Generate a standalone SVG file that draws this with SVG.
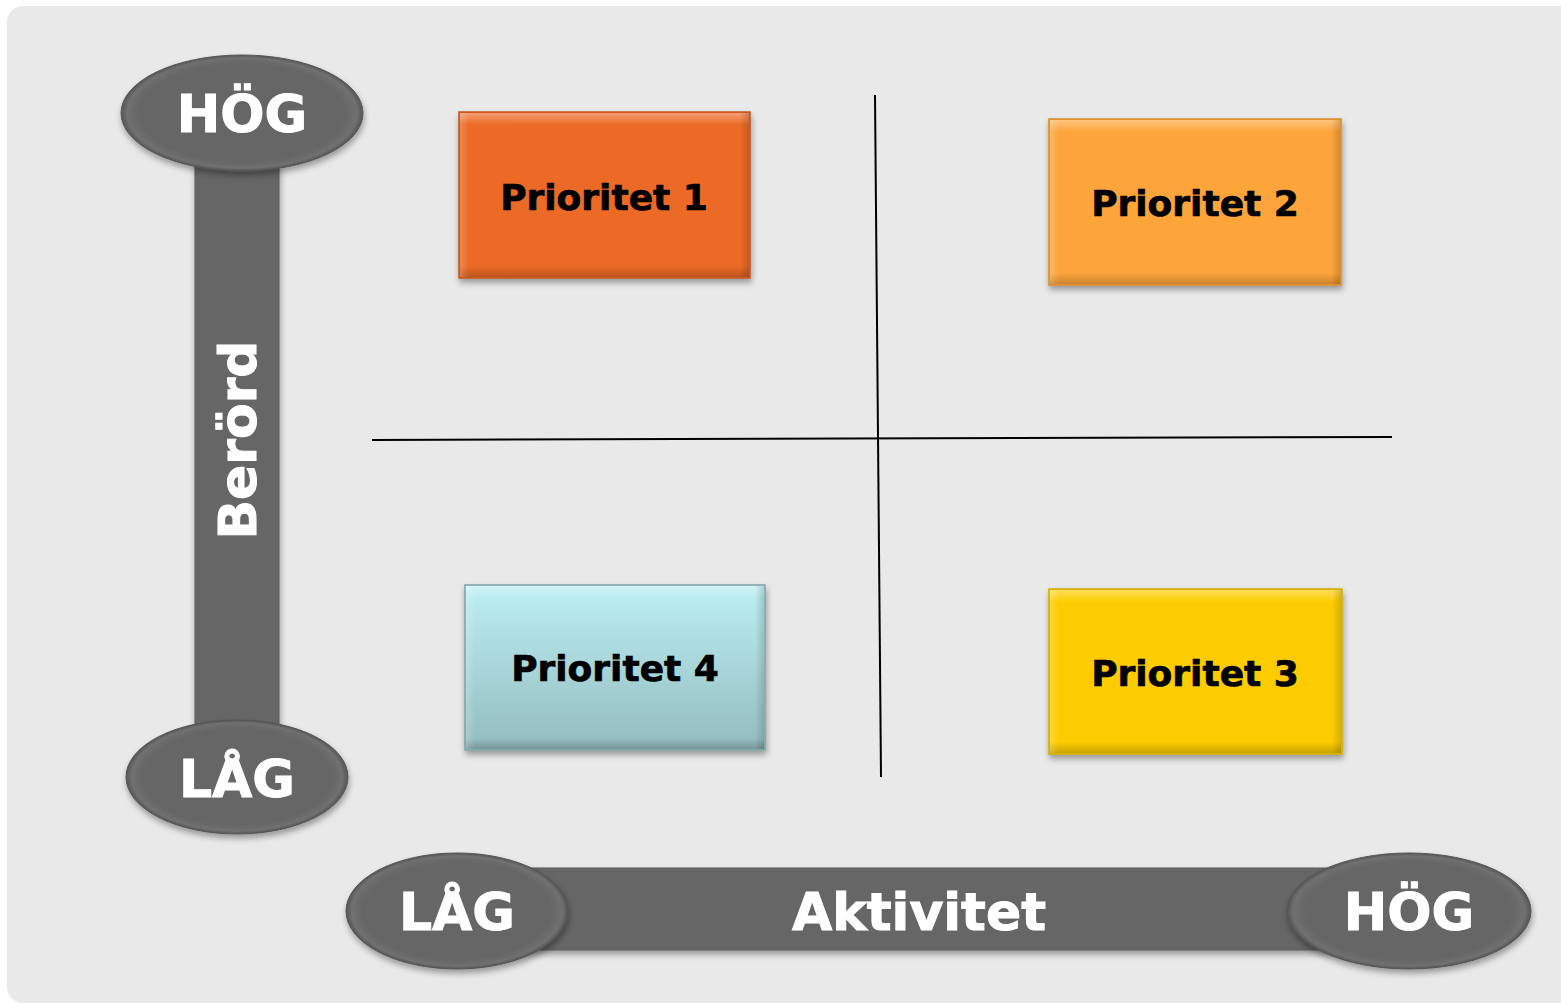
<svg xmlns="http://www.w3.org/2000/svg" width="1561" height="1005" viewBox="0 0 1561 1005">
<defs>
<filter id="sh" x="-10%" y="-10%" width="120%" height="130%">
<feGaussianBlur in="SourceAlpha" stdDeviation="3"/>
<feOffset dx="1" dy="4" result="b"/>
<feComponentTransfer><feFuncA type="linear" slope="0.35"/></feComponentTransfer>
<feMerge><feMergeNode/><feMergeNode in="SourceGraphic"/></feMerge>
</filter>
<linearGradient id="g4" x1="0" y1="0" x2="0" y2="1"><stop offset="0" stop-color="#bdeff3"/><stop offset="1" stop-color="#93bcbf"/></linearGradient>
<linearGradient id="bevT" x1="0" y1="0" x2="0" y2="1"><stop offset="0" stop-color="#fff" stop-opacity="0.35"/><stop offset="1" stop-color="#fff" stop-opacity="0"/></linearGradient>
<linearGradient id="bevB" x1="0" y1="0" x2="0" y2="1"><stop offset="0" stop-color="#000" stop-opacity="0"/><stop offset="1" stop-color="#000" stop-opacity="0.2"/></linearGradient>
<linearGradient id="bevL" x1="0" y1="0" x2="1" y2="0"><stop offset="0" stop-color="#fff" stop-opacity="0.2"/><stop offset="1" stop-color="#fff" stop-opacity="0"/></linearGradient>
<linearGradient id="bevR" x1="0" y1="0" x2="1" y2="0"><stop offset="0" stop-color="#000" stop-opacity="0"/><stop offset="1" stop-color="#000" stop-opacity="0.15"/></linearGradient>
<radialGradient id="ell" cx="0.5" cy="0.5" r="0.5"><stop offset="0.85" stop-color="#666"/><stop offset="0.95" stop-color="#707070"/><stop offset="1" stop-color="#555"/></radialGradient>
</defs>
<style>
.lbl{font-family:"DejaVu Sans","Liberation Sans",sans-serif;font-weight:bold;text-anchor:middle}
.w{fill:#fff;stroke:#fff;stroke-width:1;font-size:52px}
.b{fill:#000;stroke:#000;stroke-width:0.7;font-size:36px}
.bar{fill:#666}
.ax{stroke:#000;stroke-width:2;fill:none}
.box{stroke-width:1.5}
</style>
<rect x="7" y="6" width="1574" height="997" rx="16" fill="#e9e9e9"/>

<g id="connectors">
<line class="ax" x1="875" y1="95" x2="881" y2="777"/>
<line class="ax" x1="372" y1="440" x2="1392" y2="437"/>
</g>

<g id="vertical-axis">
<rect class="bar" x="195" y="160" width="84" height="575" stroke="#5a5a5a" filter="url(#sh)"/>
<text class="lbl w" transform="translate(256,440) rotate(-90)">Berörd</text>
</g>
<g id="horizontal-axis">
<rect class="bar" x="510" y="868" width="830" height="82" stroke="#5a5a5a" filter="url(#sh)"/>
<text class="lbl w" x="919" y="930">Aktivitet</text>
</g>

<g id="hog-vertical">
<ellipse cx="242" cy="113" rx="121" ry="58" fill="url(#ell)" stroke="#555" filter="url(#sh)"/>
<text class="lbl w" x="242" y="132">HÖG</text>
</g>
<g id="lag-vertical">
<ellipse cx="237" cy="777" rx="111" ry="57" fill="url(#ell)" stroke="#555" filter="url(#sh)"/>
<text class="lbl w" x="237" y="797">LÅG</text>
</g>
<g id="lag-horizontal">
<ellipse cx="457" cy="911" rx="111" ry="58" fill="url(#ell)" stroke="#555" filter="url(#sh)"/>
<text class="lbl w" x="457" y="930">LÅG</text>
</g>
<g id="hog-horizontal">
<ellipse cx="1409" cy="911" rx="122" ry="58" fill="url(#ell)" stroke="#555" filter="url(#sh)"/>
<text class="lbl w" x="1409" y="930">HÖG</text>
</g>

<g id="p1">
<rect class="box" x="459" y="112" width="291" height="166" fill="#ec6a28" stroke="#c4541c" filter="url(#sh)"/>
<rect x="460" y="113" width="289" height="12" fill="url(#bevT)"/>
<rect x="460" y="266" width="289" height="11" fill="url(#bevB)"/>
<rect x="460" y="113" width="9" height="164" fill="url(#bevL)"/>
<rect x="740" y="113" width="9" height="164" fill="url(#bevR)"/>
<text class="lbl b" x="604" y="210">Prioritet 1</text>
</g>
<g id="p2">
<rect class="box" x="1049" y="119" width="292" height="166" fill="#fda43a" stroke="#d98a2c" filter="url(#sh)"/>
<rect x="1050" y="120" width="290" height="12" fill="url(#bevT)"/>
<rect x="1050" y="273" width="290" height="11" fill="url(#bevB)"/>
<rect x="1050" y="120" width="9" height="164" fill="url(#bevL)"/>
<rect x="1331" y="120" width="9" height="164" fill="url(#bevR)"/>
<text class="lbl b" x="1195" y="216">Prioritet 2</text>
</g>
<g id="p4">
<rect class="box" x="465" y="585" width="300" height="165" fill="url(#g4)" stroke="#7fa3a6" filter="url(#sh)"/>
<rect x="466" y="586" width="298" height="12" fill="url(#bevT)"/>
<rect x="466" y="738" width="298" height="11" fill="url(#bevB)"/>
<rect x="466" y="586" width="9" height="163" fill="url(#bevL)"/>
<rect x="755" y="586" width="9" height="163" fill="url(#bevR)"/>
<text class="lbl b" x="615" y="681">Prioritet 4</text>
</g>
<g id="p3">
<rect class="box" x="1049" y="589" width="293" height="165" fill="#fdcc05" stroke="#d4a900" filter="url(#sh)"/>
<rect x="1050" y="590" width="291" height="12" fill="url(#bevT)"/>
<rect x="1050" y="742" width="291" height="11" fill="url(#bevB)"/>
<rect x="1050" y="590" width="9" height="163" fill="url(#bevL)"/>
<rect x="1332" y="590" width="9" height="163" fill="url(#bevR)"/>
<text class="lbl b" x="1195" y="686">Prioritet 3</text>
</g>
</svg>
